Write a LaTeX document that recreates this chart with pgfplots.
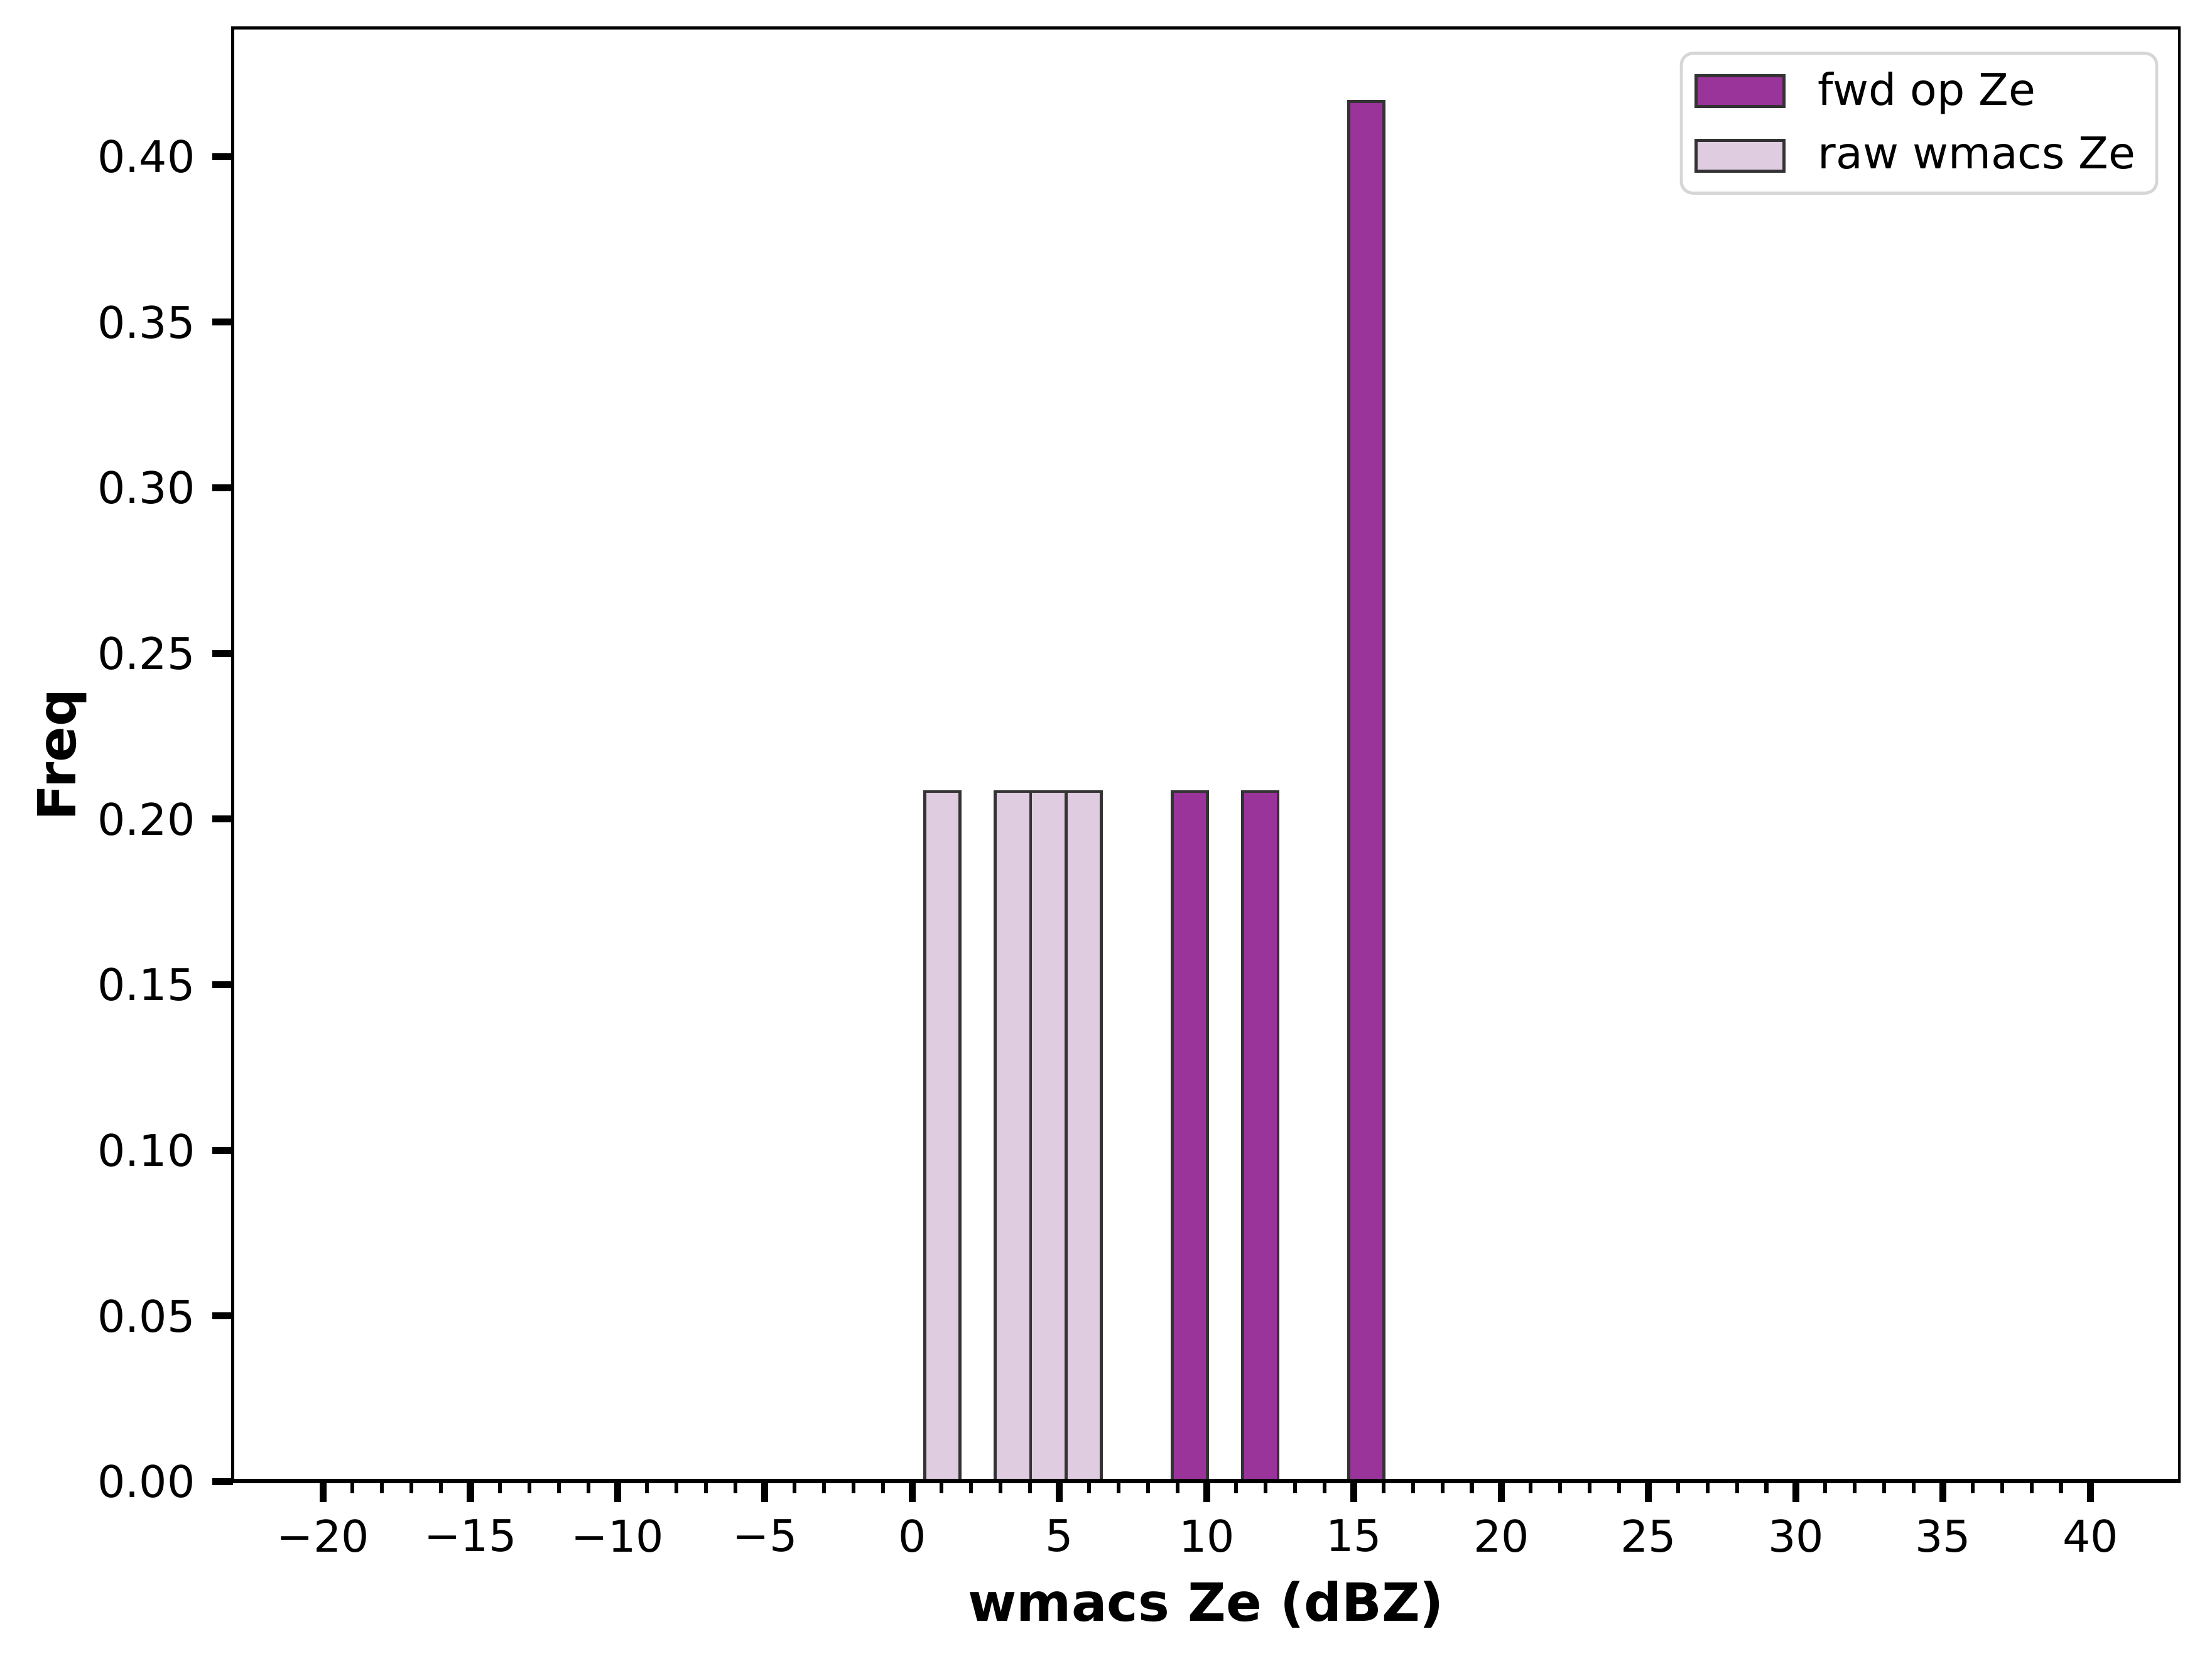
\documentclass[border=0pt]{standalone}
\usepackage{fontspec}
\setmainfont{DejaVu Sans}
\usepackage{pgfplots}
\pgfplotsset{compat=1.18}
\definecolor{fwdfill}{HTML}{9A339A}
\definecolor{rawfill}{HTML}{E0CCE0}
\definecolor{edgec}{HTML}{333333}
\definecolor{legframe}{HTML}{D6D6D6}
\begin{document}
\begin{tikzpicture}[font=\fontsize{11.4}{13.7}\selectfont]
\begin{axis}[
  name=ax,
  at={(0,0)}, anchor=south west,
  scale only axis, width=506.9pt, height=378.4pt,
  xmin=-23.07, xmax=43.02, ymin=0, ymax=0.4388,
  axis line style={line width=0.8pt},
  tick align=outside, tick pos=left,
  xtick={-20,-15,-10,-5,0,5,10,15,20,25,30,35,40},
  xticklabels={−20,−15,−10,−5,0,5,10,15,20,25,30,35,40},
  minor x tick num=4,
  ytick={0,0.05,0.10,0.15,0.20,0.25,0.30,0.35,0.40},
  yticklabels={0.00,0.05,0.10,0.15,0.20,0.25,0.30,0.35,0.40},
  major tick length=5.3pt, minor tick length=3pt,
  major tick style={line width=1.8pt, black},
  minor tick style={line width=1pt, black},
  xticklabel style={yshift=-1pt},
  yticklabel style={xshift=-1pt},
  xlabel={\fontsize{13.7}{16}\selectfont\bfseries wmacs Ze (dBZ)},
  ylabel={\fontsize{13.7}{16}\selectfont\bfseries Freq},
  xlabel style={at={(axis description cs:0.5,-0.0846)}, anchor=center},
  ylabel style={at={(axis description cs:-0.0876,0.5)}, anchor=center, rotate=0},
  legend style={at={(axis description cs:1,1)}, anchor=north east,
    xshift=-5.5pt, yshift=-6.2pt, draw=legframe, line width=0.8pt,
    rounded corners=3pt, inner xsep=3.5pt, inner ysep=2.8pt, row sep=2.8pt,
    column sep=6.5pt,
    font=\fontsize{11.4}{13.7}\selectfont},
  legend cell align=left,
  legend image code/.code={\draw[#1, line width=0.8pt, sharp corners] (0pt,-4pt) rectangle (22.8pt,4pt);},
]
\addplot[ybar interval, fill=fwdfill, draw=edgec, line width=0.8pt]
  coordinates {(8.82,0.2083) (10.02,0) (11.22,0.2083) (12.42,0) (13.62,0) (14.82,0.4167) (16.02,0.4167)};
\addlegendentry{fwd op Ze}
\addplot[ybar interval, fill=rawfill, draw=edgec, line width=0.8pt]
  coordinates {(0.42,0.2083) (1.62,0) (2.82,0.2083) (4.02,0.2083) (5.22,0.2083) (6.42,0.2083)};
\addlegendentry{raw wmacs Ze}
\draw[line width=1.3pt] (rel axis cs:0,0) -- (rel axis cs:1,0);
\end{axis}
\pgfresetboundingbox
\path[use as bounding box] (-60.6pt,-46.7pt) rectangle (515.4pt,385.7pt);
\end{tikzpicture}
\end{document}
